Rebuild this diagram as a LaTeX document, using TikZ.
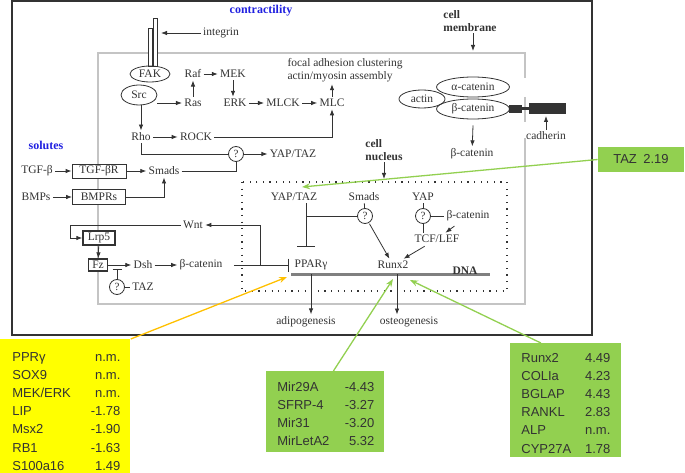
\documentclass[tikz,border=0pt]{standalone}
\usepackage{fontspec}
\setmainfont{Liberation Serif}
\newfontfamily\calloutfont{Liberation Sans}
\usetikzlibrary{positioning,arrows.meta,shapes.geometric}

\definecolor{ink}{HTML}{333333}
\definecolor{mem}{HTML}{C4C4C4}
\definecolor{titleblue}{HTML}{2020E0}
\definecolor{leaf}{HTML}{92D050}
\definecolor{lemon}{HTML}{FFFF00}
\definecolor{amber}{HTML}{FFC000}

\begin{document}
\begin{tikzpicture}[x=1pt,y=-1pt,color=ink,line width=0.8pt,
    >={Latex[length=6pt,width=4.5pt]},
    lbl/.style={inner sep=2pt,font=\fontsize{11.5}{13}\selectfont},
    head/.style={text=titleblue,font=\fontsize{12}{14}\selectfont\bfseries},
    bhead/.style={align=left,inner sep=1pt,font=\fontsize{11.5}{13.5}\selectfont\bfseries},
    ell/.style={lbl,ellipse,draw,inner sep=0pt},
    rbox/.style={lbl,draw,fill=white,inner sep=0pt},
    qc/.style={circle,draw,fill=white,inner sep=0pt,minimum size=15pt,font=\fontsize{11}{12}\selectfont},
    card/.style={inner sep=0pt,anchor=north west},
    tab/.style={inner sep=0pt,font=\calloutfont\fontsize{13}{18.2}\selectfont},
    hint/.style={line width=1.3pt,-{Stealth[length=8pt,width=6pt]}},
  ]
  \useasboundingbox (0,0) rectangle (685,473);

  % frame, membrane, nucleus
  \draw[line width=1.3pt] (12,1) rectangle (592,335);
  \draw[mem,line width=1.6pt] (525,78) -- (525,53) -- (98,53) -- (98,304) -- (525,304) -- (525,138);
  \draw[mem,line width=1.6pt] (525,97) -- (525,122);
  \draw[line width=1.1pt,dash pattern=on 1.2pt off 5.4pt] (242,182) rectangle (507,291);
  \draw[gray,line width=3pt] (291,274) -- (490,274);

  % titles
  \node[head] (contr) at (261,11) {contractility};
  \node[head] (sol) at (46,145) {solutes};
  \node[bhead] (memb) at (470,21) {cell\\membrane};
  \node[bhead] (nucl) at (384,150) {cell\\nucleus};
  \coordinate (membin) at (473,51);
  \coordinate (nuclin) at (384,179);
  \draw[->] (membin |- memb.south) -- (membin);
  \draw[->] (nucl) -- (nuclin);

  % integrin, FAK, Src
  \draw[fill=white] (148,28) rectangle (152,66);
  \draw[fill=white] (153,18) rectangle (157,66);
  \node[lbl] (integrin) at (221,33) {integrin};
  \coordinate (intbar) at (161,33);
  \draw[->] (integrin) -- (intbar);
  \node[ell,minimum width=40pt,minimum height=16pt] (fak) at (150,74) {FAK};
  \node[ell,minimum width=36pt,minimum height=20pt] (src) at (139,95) {Src};

  % contractility cascade
  \node[lbl] (raf) at (193,74) {Raf};
  \node[lbl] (mek) at (233,74) {MEK};
  \node[lbl] (ras) at (193,103) {Ras};
  \node[lbl] (erk) at (235,103) {ERK};
  \node[lbl] (mlck) at (283,103) {MLCK};
  \node[lbl] (mlc) at (332,103) {MLC};
  \node[lbl,align=left] (focal) at (345,70) {focal adhesion clustering\\actin/myosin assembly};
  \node[lbl] (rho) at (141,137) {Rho};
  \node[lbl] (rock) at (196,137) {ROCK};
  \node[qc] (q1) at (236,154) {?};
  \node[lbl] (yaptaz1) at (293,154) {YAP/TAZ};

  \draw[->] (src.east |- ras) -- (ras);
  \draw[->] (ras) -- (raf);
  \draw[->] (raf) -- (mek);
  \draw[->] (mek) -- (erk.north -| mek);
  \draw[->] (erk) -- (mlck);
  \draw[->] (mlck) -- (mlc);
  \draw[->] (mlc) -- (mlc |- focal.south);
  \draw[->] (rho |- src.south) -- (rho);
  \draw[->] (rho) -- (rock);
  \draw[->] (rock) -| (mlc);
  \draw (rho) |- (q1);
  \draw[->] (q1) -- (yaptaz1);

  % solutes
  \node[lbl] (tgfb) at (37,171) {TGF-β};
  \node[rbox,minimum width=54pt,minimum height=14pt] (tgfbr) at (99,171) {TGF-βR};
  \node[lbl] (smads) at (164,171) {Smads};
  \node[lbl] (bmps) at (36,197) {BMPs};
  \node[rbox,minimum width=53pt,minimum height=15pt] (bmprs) at (99,197) {BMPRs};
  \draw[->] (tgfb) -- (tgfbr);
  \draw[->] (tgfbr) -- (smads);
  \draw[->] (bmps) -- (bmprs);
  \draw[->] (bmprs) -| (smads);
  \draw (smads) -| (q1);

  % nucleus
  \node[lbl] (yaptaz2) at (294,197) {YAP/TAZ};
  \node[lbl] (smads2) at (364,197) {Smads};
  \node[lbl] (yap) at (423,197) {YAP};
  \node[qc] (q3) at (365,216) {?};
  \node[qc] (q4) at (423,216) {?};
  \node[lbl] (bcat3) at (468,216) {β-catenin};
  \node[lbl] (tcf) at (437,239) {TCF/LEF};
  \node[lbl] (pparg) at (311,265) {PPARγ};
  \node[lbl] (runx2) at (393,265) {Runx2};
  \node[bhead] (dna) at (465,271) {DNA};
  \node[lbl] (adipo) at (306,322) {adipogenesis};
  \node[lbl] (osteo) at (409,322) {osteogenesis};
  \coordinate (ppbar) at (306,247);
  \coordinate (dnaA) at (311,274);
  \coordinate (dnaO) at (397,274);
  \draw[-{Bar[width=18pt]}] (ppbar |- yaptaz2.south) -- (ppbar);
  \draw (q3) -- (q3 -| ppbar);
  \draw (smads2) -- (q3);
  \draw[->,shorten <=1pt] (q3) -- (runx2);
  \draw (yap) -- (q4);
  \draw (q4) -- (bcat3);
  \draw (q4) -- (q4 |- tcf.north);
  \draw[->,shorten <=4pt] (bcat3) -- (tcf);
  \draw[->,shorten <=2pt] (tcf) -- (runx2);
  \draw[->] (dnaA) -- (adipo.north -| dnaA);
  \draw[->] (dnaO) -- (osteo.north -| dnaO);

  % Wnt branch
  \node[lbl] (wnt) at (193,225) {Wnt};
  \node[rbox,line width=1.3pt,minimum width=32pt,minimum height=14pt] (lrp5) at (99,238) {Lrp5};
  \node[rbox,line width=1.3pt,minimum width=19pt,minimum height=12pt] (fz) at (98,265) {Fz};
  \node[lbl] (dsh) at (143,265) {Dsh};
  \node[lbl] (bcat1) at (201,265) {β-catenin};
  \node[qc] (q2) at (117,287) {?};
  \node[lbl] (taz) at (143,287) {TAZ};
  \coordinate (tazbar) at (117,269);
  \coordinate (wbr) at (260,265);
  \draw[->] (wnt.west) -- ++(-110,0) |- (lrp5);
  \draw[->] (lrp5) -- (fz);
  \draw[->] (fz) -- (dsh);
  \draw[->] (dsh) -- (bcat1);
  \draw (taz) -- (q2);
  \draw[-{Bar[width=9pt]}] (q2) -- (tazbar);
  \draw[-{Bar[width=13pt]},shorten <=9pt,shorten >=3pt] (bcat1) -- (pparg);
  \draw[->] (wbr) |- (wnt);

  % adherens junction
  \node[ell,minimum width=46pt,minimum height=18pt] (actin) at (422,99) {actin};
  \node[ell,minimum width=73pt,minimum height=20pt] (acat) at (473,87) {α-catenin};
  \node[ell,minimum width=73pt,minimum height=20pt] (bcat2) at (473,109) {β-catenin};
  \fill (509,105) rectangle (522,113);
  \fill (521,107.5) rectangle (530,110.5);
  \fill (529,103) rectangle (566,114);
  \node[lbl] (cadh) at (546,136) {cadherin};
  \coordinate (cadbar) at (546,116);
  \draw[->] (cadh) -- (cadbar);
  \node[lbl] (bcat4) at (472,154) {β-catenin};
  \draw[->] (bcat2.south) ++(0,6) -- (bcat4);

  % expression callouts
  \node[fill=leaf,minimum width=86pt,minimum height=25pt,font=\calloutfont\fontsize{13}{15}\selectfont] (tazcard) at (641,159.5) {TAZ\enspace 2.19};
  \node[card,fill=lemon,minimum width=130pt,minimum height=134pt] (ppgcard) at (0,339) {};
  \node[tab,below right=9pt and 12pt of ppgcard.north west] (ppglist) {%
    \begin{tabular*}{108pt}{@{}l@{\extracolsep{\fill}}r@{}}
      PPRγ & n.m.\\ SOX9 & n.m.\\ MEK/ERK & n.m.\\ LIP & -1.78\\
      Msx2 & -1.90\\ RB1 & -1.63\\ S100a16 & 1.49
    \end{tabular*}};
  \node[card,fill=leaf,minimum width=118pt,minimum height=81pt] (mircard) at (266,371) {};
  \node[tab,below right=7pt and 11pt of mircard.north west] (mirlist) {%
    \begin{tabular*}{97pt}{@{}l@{\extracolsep{\fill}}r@{}}
      Mir29A & -4.43\\ SFRP-4 & -3.27\\ Mir31 & -3.20\\ MirLetA2 & 5.32
    \end{tabular*}};
  \node[card,fill=leaf,minimum width=111pt,minimum height=114pt] (ostcard) at (510,343) {};
  \node[tab,below right=6pt and 11pt of ostcard.north west] (ostlist) {%
    \begin{tabular*}{89pt}{@{}l@{\extracolsep{\fill}}r@{}}
      Runx2 & 4.49\\ COLIa & 4.23\\ BGLAP & 4.43\\ RANKL & 2.83\\
      ALP & n.m.\\ CYP27A & 1.78
    \end{tabular*}};

  \coordinate (yapin) at (302,187);
  \coordinate (pparin) at (287,277);
  \coordinate (runxin) at (393,279);
  \coordinate (osteoin) at (410,280);
  \draw[hint,leaf] (tazcard.west) -- (yapin);
  \draw[hint,amber] (ppgcard.north east) -- (pparin);
  \draw[hint,leaf] ([xshift=8pt]mircard.north) -- (runxin);
  \draw[hint,leaf] ([xshift=-25pt]ostcard.north) -- (osteoin);
\end{tikzpicture}
\end{document}
